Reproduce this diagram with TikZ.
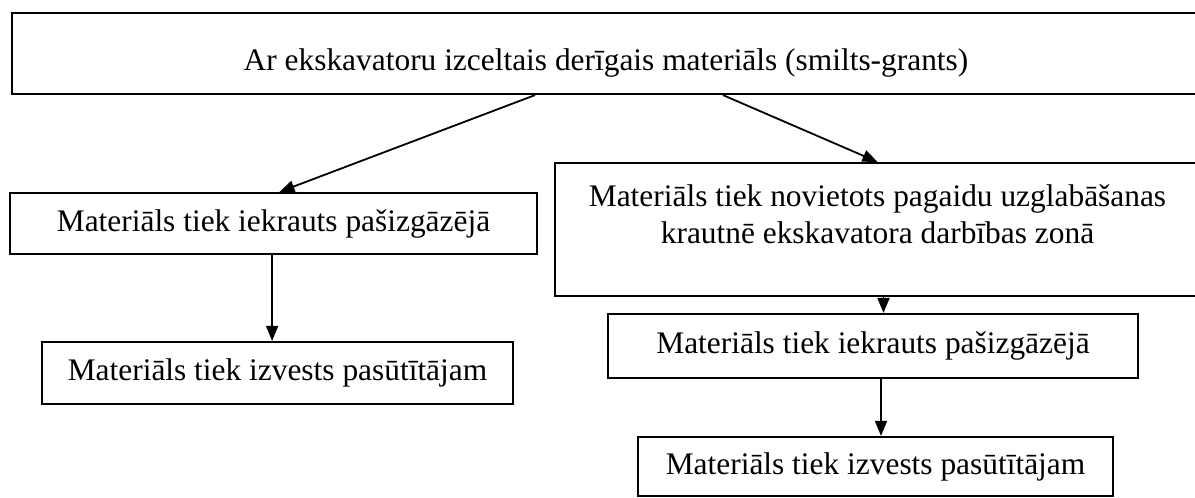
\documentclass[tikz,border=0pt]{standalone}
\usepackage{fontspec}
\setmainfont{Liberation Serif}
\usetikzlibrary{arrows.meta}
\begin{document}
\begin{tikzpicture}
    [
        x=0.5pt, y=-0.5pt,
        stage/.style={rectangle, draw, line width=1.1pt, inner sep=0pt, align=center,
            font=\fontsize{15.7}{18.5}\selectfont},
        flow/.style={-{Triangle[length=7.5pt,width=6pt]}, line width=0.9pt},
    ]
    \useasboundingbox (0,0) rectangle (1195,498);
    \node (dig) at (606,53.5) [stage, minimum width=594pt, minimum height=40.5pt, text height=20pt, text depth=3.4pt] {Ar ekskavatoru izceltais derīgais materiāls (smilts-grants)};
    \node (load1) at (273.5,223.5) [stage, minimum width=263.5pt, minimum height=30.5pt] {Materiāls tiek iekrauts pašizgāzējā};
    \node (deliv1) at (277.5,373) [stage, minimum width=235.5pt, minimum height=31pt] {Materiāls tiek izvests pasūtītājam};
    \node (store) at (877.5,229.5) [stage, minimum width=322.5pt, minimum height=66.5pt, text depth=15pt] {Materiāls tiek novietots pagaidu uzglabāšanas\\krautnē ekskavatora darbības zonā};
    \node (load2) at (873,346) [stage, minimum width=265pt, minimum height=32pt] {Materiāls tiek iekrauts pašizgāzējā};
    \node (deliv2) at (875.5,466.5) [stage, minimum width=237.5pt, minimum height=29.5pt] {Materiāls tiek izvests pasūtītājam};
    \draw [flow] ([xshift=-35.5pt]dig.south) -- ([xshift=3pt]load1.north);
    \draw [flow] ([xshift=58.5pt]dig.south) -- (store.north);
    \draw [flow] ([xshift=-0.7pt]load1.south) -- ([xshift=-0.7pt]load1.south |- deliv1.north);
    \draw [flow] ([xshift=3pt]store.south) -- ([xshift=3pt]store.south |- load2.north);
    \draw [flow] ([xshift=4pt]load2.south) -- ([xshift=4pt]load2.south |- deliv2.north);
\end{tikzpicture}
\end{document}
